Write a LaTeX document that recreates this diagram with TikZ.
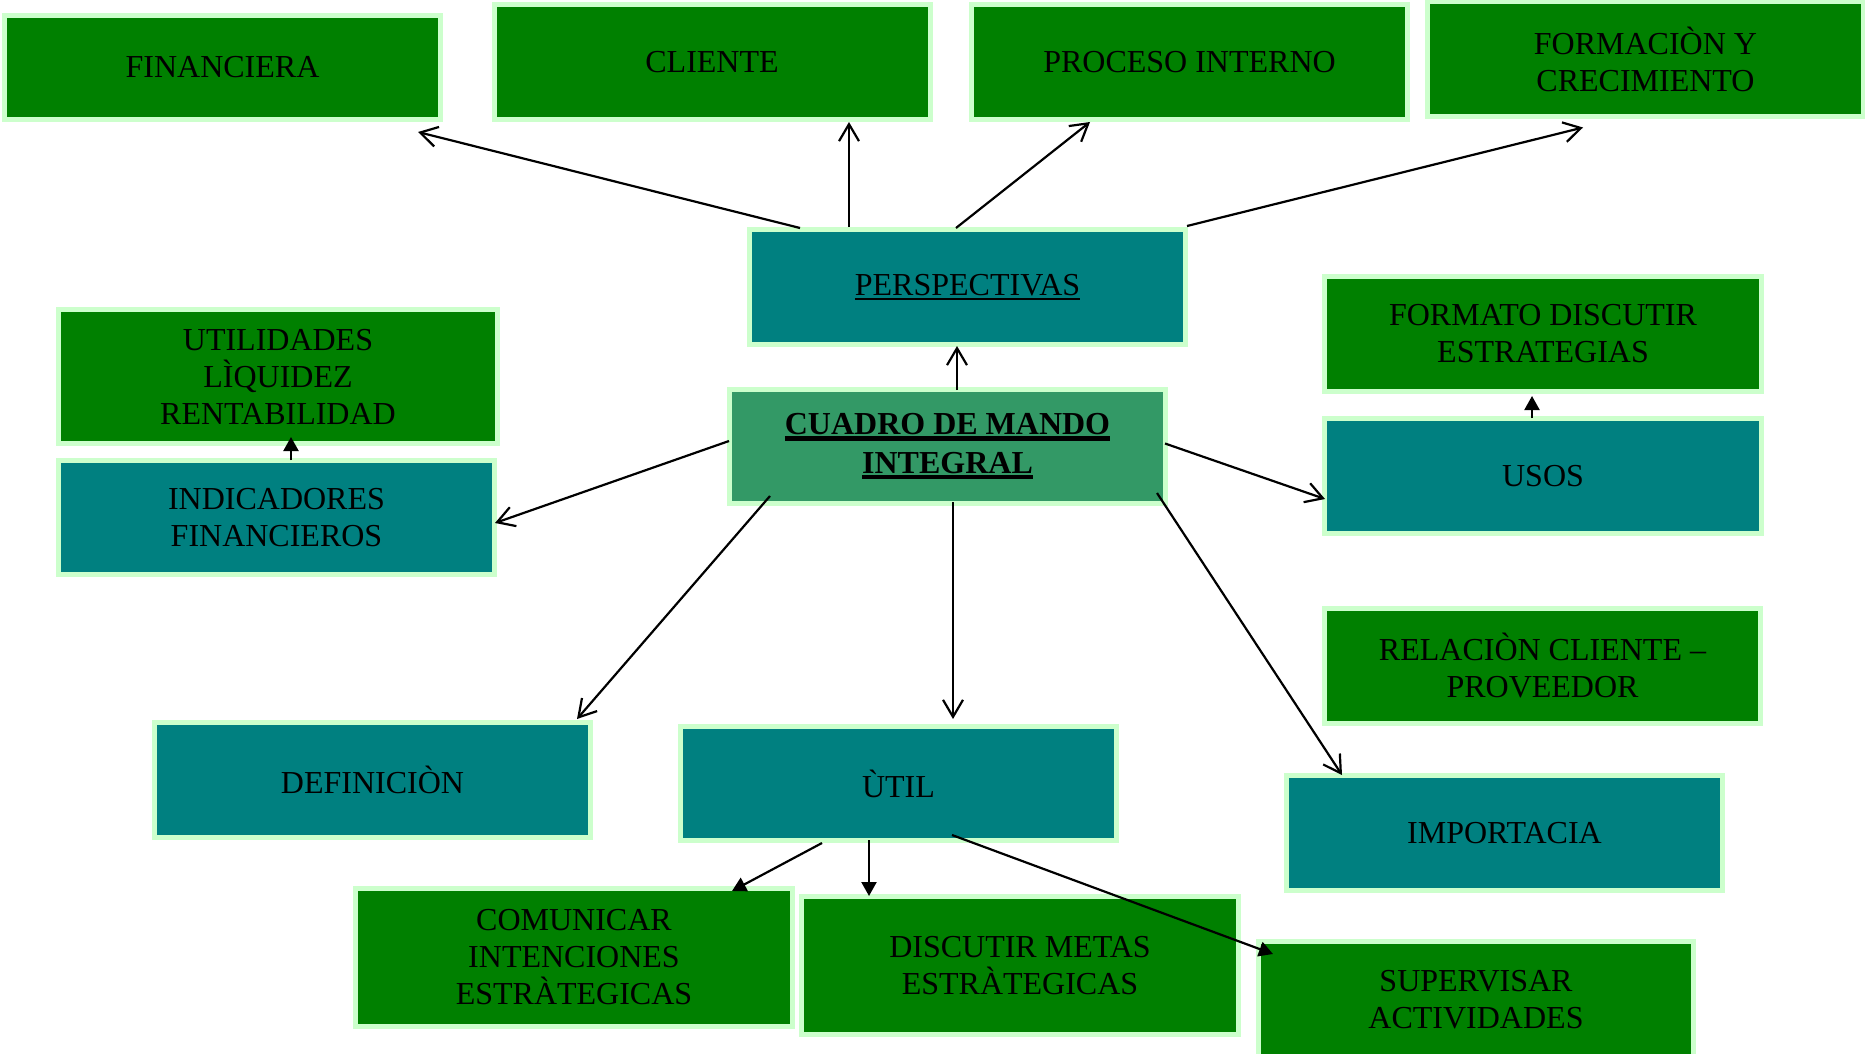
\documentclass[tikz,border=0pt]{standalone}
\usepackage{fontspec}
\setmainfont{Liberation Serif}
\usetikzlibrary{arrows.meta,calc}

\definecolor{boxgreen}{HTML}{008000}
\definecolor{boxteal}{HTML}{008080}
\definecolor{boxcore}{HTML}{339966}
\definecolor{boxrim}{HTML}{CCFFCC}

% underline drawn as a rule: #1 thickness, #2 depth below baseline, #3 text
\newcommand\rulerline[3]{\setbox0\hbox{#3}\rlap{\rule[-#2]{\wd0}{#1}}\box0}

\tikzset{
  card/.style={draw=boxrim, line width=5pt, minimum width=436pt, minimum height=115pt,
    inner sep=0pt, align=center, text=black, font=\fontsize{32}{37}\selectfont},
  greencard/.style={card, fill=boxgreen},
  tealcard/.style={card, fill=boxteal},
  corecard/.style={card, fill=boxcore, font=\fontsize{32}{38.5}\selectfont\bfseries},
  link/.style={draw=black, line width=2.2pt, -{Straight Barb[length=17pt,width=20pt]}},
  solidlink/.style={draw=black, line width=2.2pt, -{Triangle[length=14pt,width=15pt]}},
}

\begin{document}
\begin{tikzpicture}[x=1pt,y=-1pt]
\useasboundingbox (0,0) rectangle (1865,1054);
\fill[white] (0,0) rectangle (1865,1054);
\clip (0,0) rectangle (1865,1054);

% top row: the four perspectives
\node[greencard, minimum height=104pt] (fin) at (222.5,67.5) {FINANCIERA};
\node[greencard] (cli) at (712,62) {CLIENTE};
\node[greencard] (pro) at (1189.5,62) {PROCESO INTERNO};
\node[greencard] (for) at (1645.5,59.5) {FORMACIÒN Y\\CRECIMIENTO};

% centre
\node[tealcard] (per) at (967.5,287) {\rulerline{2.5pt}{5pt}{PERSPECTIVAS}};
\node[corecard, minimum height=114pt] (cua) at (947.5,446.5)
  {\rulerline{4.5pt}{6pt}{CUADRO DE MANDO}\\\rulerline{4.5pt}{6pt}{INTEGRAL}};

% left side
\node[greencard, minimum width=439pt, minimum height=134pt] (uti) at (278,376.5)
  {UTILIDADES\\LÌQUIDEZ\\RENTABILIDAD};
\node[tealcard, minimum height=114pt] (ind) at (276.5,517.5) {INDICADORES\\FINANCIEROS};
\node[tealcard] (def) at (372.5,780) {DEFINICIÒN};

% right side
\node[greencard, minimum width=437pt] (fmt) at (1543,334) {FORMATO DISCUTIR\\ESTRATEGIAS};
\node[tealcard, minimum width=437pt] (uso) at (1543,476) {USOS};
\node[greencard] (rel) at (1542.5,666) {RELACIÒN CLIENTE –\\PROVEEDOR};
\node[tealcard] (imp) at (1504.5,833) {IMPORTACIA};

% bottom
\node[tealcard, minimum height=114pt] (util) at (898.5,783.5) {ÙTIL};
\node[greencard, minimum width=437pt, minimum height=138pt] (com) at (574,957.5)
  {COMUNICAR\\INTENCIONES\\ESTRÀTEGICAS};
\node[greencard, minimum width=437pt, minimum height=138pt] (dis) at (1020,965.5)
  {DISCUTIR METAS\\ESTRÀTEGICAS};
\node[greencard, minimum width=435pt, minimum height=117pt] (sup) at (1476,1000)
  {SUPERVISAR\\ACTIVIDADES};

% perspectives fan
\draw[link] ($(per.north)+(-167.5,1)$) -- ($(fin.south)+(195.5,10)$);
\draw[link] ($(per.north)+(-118.5,0)$) -- ($(cli.south)+(137,0)$);
\draw[link] ($(per.north)+(-11.5,1)$) -- ($(pro.south)+(-99.5,0)$);
\draw[link] ($(per.north)+(219.5,-1)$) -- ($(for.south)+(-62.5,8)$);

% from the centre box
\draw[link] ($(cua.north)+(9.5,3)$) -- ($(per.south)+(-10.5,-1)$);
\draw[link] ($(cua.west)+(2,-5.5)$) -- ($(ind.east)+(-2,5.5)$);
\draw[link] ($(cua.east)+(-3,-3)$) -- ($(uso.west)+(3,23)$);
\draw[link] ($(cua.south)+(-177.5,-10)$) -- ($(def.north)+(204.5,-1)$);
\draw[link] ($(cua.south)+(5.5,-4)$) -- ($(util.north)+(54.5,-5)$);
\draw[link] ($(cua.south east)+(-11,-13)$) -- ($(imp.north west)+(58,2)$);

% short filled arrows
\draw[solidlink] ($(ind.north)+(14.5,2)$) -- ($(uti.south)+(13,-9)$);
\draw[solidlink] ($(uso.north)+(-11,2)$) -- ($(fmt.south)+(-11,2)$);
\draw[solidlink] ($(util.south)+(-76.5,0)$) -- ($(com.north)+(158,5)$);
\draw[solidlink] ($(util.south)+(-29.5,-3)$) -- ($(dis.north)+(-151,2)$);
\draw[solidlink] ($(util.south)+(53.5,-8)$) -- ($(sup.north west)+(17,15)$);
\end{tikzpicture}
\end{document}
